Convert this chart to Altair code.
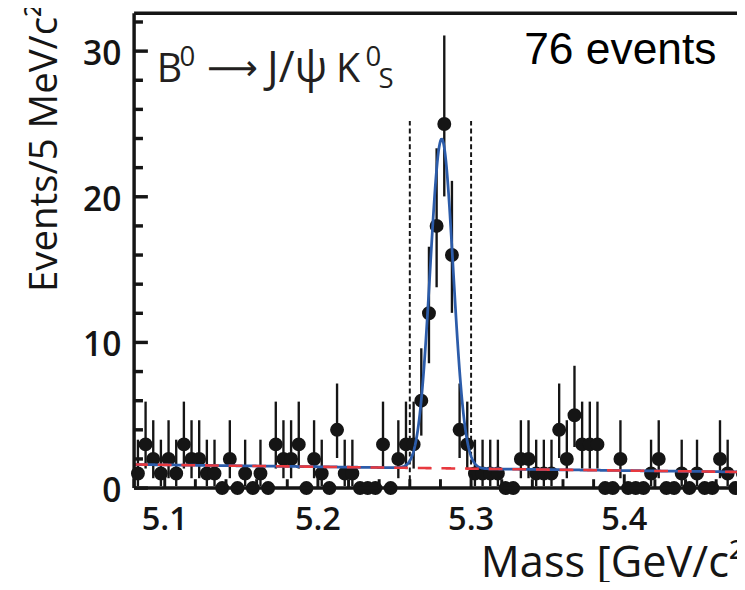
import numpy as np
import pandas as pd
import altair as alt

# ---- data ----
bin_start = 5.08
bin_width = 0.005
counts = [1, 3, 2, 1, 2, 1, 3, 2, 2, 1,
          1, 0, 2, 0, 1, 0, 1, 0, 3, 2,
          2, 3, 0, 2, 1, 0, 4, 1, 1, 0,
          0, 0, 3, 0, 2, 3, 3, 6, 12, 18,
          25, 16, 4, 3, 1, 1, 1, 1, 0, 0,
          2, 2, 1, 1, 1, 4, 2, 5, 3, 3,
          3, 0, 0, 2, 0, 0, 0, 1, 2, 0,
          0, 1, 0, 1, 0, 0, 2, 1, 0, 1]

x_domain = [5.08, 5.4736]
y_domain = [0, 32.6]
x_major = [5.1, 5.2, 5.3, 5.4]
x_labels = ["5.1", "5.2", "5.3", "5.4"]
x_minor = [5.08, 5.12, 5.14, 5.16, 5.18, 5.22, 5.24, 5.26, 5.28,
           5.32, 5.34, 5.36, 5.38, 5.42, 5.44, 5.46]
y_major = [0, 10, 20, 30]
y_labels = ["0", "10", "20", "30"]
y_minor = [2, 4, 6, 8, 12, 14, 16, 18, 22, 24, 26, 28, 32]

window_edges = [5.26, 5.30]
window_top = 25.2

# fit parameters (gaussian signal + linear background)
sig_mean = 5.2808
sig_sigma = 0.0075
sig_amp = 22.6
bkg_at_start = 1.62
bkg_slope = -1.3

# ---- tables ----
centers = [bin_start + bin_width * (i + 0.5) for i in range(len(counts))]
pts = pd.DataFrame({"m": centers, "n": counts})
err = pts[pts["n"] > 0].copy()
err["lo"] = err["n"] - np.sqrt(err["n"] - 0.25)
err["hi"] = err["n"] + np.sqrt(err["n"] + 0.75) + 1.0

grid = np.linspace(x_domain[0], x_domain[1], 900)
bkg = bkg_at_start + bkg_slope * (grid - bin_start)
tot = bkg + sig_amp * np.exp(-0.5 * ((grid - sig_mean) / sig_sigma) ** 2)
curve = pd.DataFrame({"m": grid, "bkg": bkg, "tot": tot})

win = pd.DataFrame({"m": window_edges, "y0": [0, 0], "y1": [window_top, window_top]})

W, H = 612, 482
INK = "#151515"
FONT = "Open Sans"

xs = alt.Scale(domain=x_domain, nice=False, zero=False)
ys = alt.Scale(domain=y_domain, nice=False, zero=False)


def X(f):
    return alt.X(f, scale=xs, axis=None)


def Y(f):
    return alt.Y(f, scale=ys, axis=None)


errbars = alt.Chart(err).mark_rule(color=INK, strokeWidth=2.4).encode(
    x=X("m:Q"), y=Y("lo:Q"), y2="hi:Q")

vlines = alt.Chart(win).mark_rule(color=INK, strokeWidth=2, strokeDash=[5, 3]).encode(
    x=X("m:Q"), y=Y("y0:Q"), y2="y1:Q")

points = alt.Chart(pts).mark_circle(size=200, color=INK, opacity=1).encode(
    x=X("m:Q"), y=Y("n:Q"))

blue = alt.Chart(curve).mark_line(color="#2c5caa", strokeWidth=2.8, clip=True).encode(
    x=X("m:Q"), y=Y("tot:Q"))
red = alt.Chart(curve).mark_line(color="#e8393f", strokeWidth=2.6, strokeDash=[14, 10],
                                 clip=True).encode(x=X("m:Q"), y=Y("bkg:Q"))

# frame (left, bottom, top) and inward ticks
one = pd.DataFrame({"a": [0]})
left_border = alt.Chart(one).mark_rule(color=INK, strokeWidth=3.5).encode(
    x=alt.value(0), y=alt.value(0), y2=alt.value(H))
bottom_border = alt.Chart(one).mark_rule(color=INK, strokeWidth=3.5).encode(
    x=alt.value(0), x2=alt.value(W), y=alt.value(H))
top_border = alt.Chart(one).mark_rule(color=INK, strokeWidth=3.5).encode(
    x=alt.value(0), x2=alt.value(W), y=alt.value(0))

ytk_major = alt.Chart(pd.DataFrame({"v": y_major})).mark_rule(color=INK, strokeWidth=3.5).encode(
    y=Y("v:Q"), x=alt.value(0), x2=alt.value(14))
ytk_minor = alt.Chart(pd.DataFrame({"v": y_minor})).mark_rule(color=INK, strokeWidth=3.5).encode(
    y=Y("v:Q"), x=alt.value(0), x2=alt.value(9))
xtk_major = alt.Chart(pd.DataFrame({"v": x_major})).mark_rule(color=INK, strokeWidth=3).encode(
    x=X("v:Q"), y=alt.value(H), y2=alt.value(H - 14))
xtk_minor = alt.Chart(pd.DataFrame({"v": x_minor})).mark_rule(color=INK, strokeWidth=3).encode(
    x=X("v:Q"), y=alt.value(H), y2=alt.value(H - 9))

# tick labels
ylab = alt.Chart(pd.DataFrame({"v": y_major, "t": y_labels})).mark_text(
    align="right", baseline="alphabetic", dy=14, font=FONT, fontSize=34,
    fontWeight=600, color=INK).encode(y=Y("v:Q"), x=alt.value(-13), text="t:N")
xlab = alt.Chart(pd.DataFrame({"v": x_major, "t": x_labels})).mark_text(
    align="center", baseline="alphabetic", font=FONT, fontSize=33,
    fontWeight=600, color=INK).encode(x=X("v:Q"), y=alt.value(H + 43), text="t:N")

# axis titles
ytitle = alt.Chart(pd.DataFrame({"t": ["Events/5 MeV/c²"]})).mark_text(
    align="left", baseline="alphabetic", angle=270, font=FONT, fontSize=39,
    color=INK).encode(x=alt.value(-78), y=alt.value(283), text="t:N")
xtitle = alt.Chart(pd.DataFrame({"t": ["Mass [GeV/c²]"]})).mark_text(
    align="left", baseline="alphabetic", font=FONT, fontSize=44,
    color=INK).encode(x=alt.value(352), y=alt.value(H + 90), text="t:N")


def label(txt, x, y, size, font=FONT, color="#231f20"):
    return alt.Chart(pd.DataFrame({"t": [txt]})).mark_text(
        align="left", baseline="alphabetic", font=font, fontSize=size, color=color
    ).encode(x=alt.value(x), y=alt.value(y), text="t:N")


texts = [
    label("B", 23, 70, 40),
    label("0", 46, 54, 28),
    label("⟶", 74, 68, 36, font="DejaVu Sans"),
    label("J/ψ", 135, 70, 44),
    label("K", 205, 70, 40),
    label("0", 235, 54, 28),
    label("S", 248, 76, 28),
    label("76 events", 396, 52, 45, font="Liberation Sans", color="#000000"),
]

chart = alt.layer(
    errbars, vlines, points, blue, red,
    left_border, bottom_border, top_border,
    ytk_major, ytk_minor, xtk_major, xtk_minor,
    ylab, xlab, ytitle, xtitle, *texts
).properties(
    width=W, height=H,
    padding={"left": 128, "top": 1, "right": 0, "bottom": 91},
    autosize=alt.AutoSizeParams(type="none"),
).configure_view(strokeWidth=0).configure(background="white")

chart.save("out.html", embed_options={"renderer": "svg", "actions": False})
